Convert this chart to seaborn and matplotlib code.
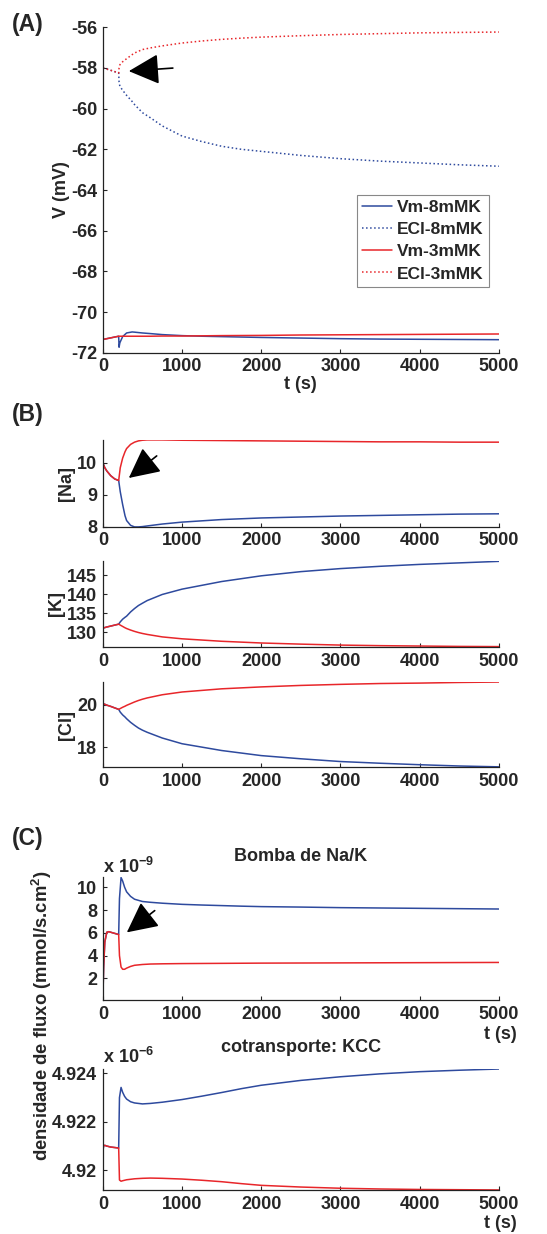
import matplotlib
matplotlib.use('Agg')
import matplotlib.pyplot as plt
import seaborn as sns

# Couleurs des deux conditions
BLEU = '#2E4A9E'
ROUGE = '#E8262A'

# ---- (A) potentiels ----
t_A = [0, 100, 200, 205, 215, 250, 300, 370, 400, 500, 600, 750, 1000, 1250,
       1500, 1750, 2000, 2500, 3000, 3500, 4000, 4500, 5000]
vm_8 = [-71.34, -71.26, -71.18, -71.72, -71.5, -71.2, -71.02, -70.97, -70.98,
        -71.02, -71.05, -71.1, -71.15, -71.18, -71.2, -71.22, -71.24, -71.27,
        -71.3, -71.32, -71.33, -71.34, -71.35]
ecl_8 = [-58.0, -58.12, -58.25, -58.7, -58.9, -59.1, -59.35, -59.65, -59.8,
         -60.2, -60.45, -60.85, -61.35, -61.62, -61.85, -62.0, -62.1, -62.3,
         -62.46, -62.58, -62.67, -62.76, -62.83]
vm_3 = [-71.34, -71.26, -71.18, -71.18, -71.18, -71.18, -71.18, -71.18, -71.18,
        -71.18, -71.18, -71.17, -71.17, -71.16, -71.15, -71.145, -71.14, -71.12,
        -71.11, -71.1, -71.09, -71.08, -71.07]
ecl_3 = [-58.0, -58.12, -58.25, -58.0, -57.85, -57.7, -57.55, -57.35, -57.27,
         -57.1, -57.02, -56.92, -56.78, -56.68, -56.6, -56.54, -56.49, -56.42,
         -56.36, -56.32, -56.28, -56.26, -56.24]

# ---- (B) concentrations ----
t_B = [0, 25, 50, 100, 150, 200, 220, 250, 280, 300, 350, 400, 450, 500, 560,
       750, 1000, 1500, 2000, 2500, 3000, 3500, 4000, 4500, 5000]
na_3 = [10.0, 9.85, 9.75, 9.6, 9.5, 9.45, 9.85, 10.15, 10.35, 10.45, 10.58,
        10.65, 10.69, 10.71, 10.72, 10.72, 10.71, 10.7, 10.69, 10.68, 10.67,
        10.66, 10.66, 10.65, 10.65]
na_8 = [10.0, 9.85, 9.75, 9.6, 9.5, 9.45, 9.1, 8.7, 8.35, 8.2, 8.05, 8.0, 8.0,
        8.01, 8.03, 8.09, 8.15, 8.23, 8.28, 8.31, 8.34, 8.36, 8.38, 8.4, 8.41]
k_3 = [131.05, 131.2, 131.35, 131.6, 131.85, 132.1, 131.85, 131.5, 131.15,
       130.95, 130.55, 130.2, 129.9, 129.65, 129.4, 128.75, 128.25, 127.6,
       127.15, 126.85, 126.6, 126.45, 126.35, 126.25, 126.2]
k_8 = [131.05, 131.2, 131.35, 131.6, 131.85, 132.1, 132.7, 133.4, 133.9, 134.2,
       135.3, 136.2, 137.0, 137.6, 138.3, 139.9, 141.3, 143.3, 144.8, 145.9,
       146.7, 147.3, 147.8, 148.2, 148.6]
cl_3 = [20.05, 20.02, 19.98, 19.92, 19.85, 19.78, 19.82, 19.88, 19.93, 19.97,
        20.05, 20.13, 20.2, 20.26, 20.32, 20.47, 20.6, 20.75, 20.84, 20.91,
        20.96, 21.0, 21.02, 21.05, 21.07]
cl_8 = [20.05, 20.02, 19.98, 19.92, 19.85, 19.78, 19.65, 19.52, 19.42, 19.34,
        19.17, 19.03, 18.9, 18.8, 18.7, 18.43, 18.16, 17.84, 17.6, 17.45,
        17.32, 17.24, 17.17, 17.11, 17.07]

# ---- (C) flux (pompe en 1e-9, KCC en 1e-6) ----
t_C = [0, 5, 10, 25, 50, 75, 100, 150, 200, 210, 230, 250, 275, 300, 350, 400,
       500, 600, 750, 1000, 1250, 1500, 1750, 2000, 2500, 3000, 3500, 4000,
       4500, 5000]
pompe_3 = [0.1, 1.5, 3.0, 5.2, 6.05, 6.1, 6.05, 5.95, 5.85, 4.0, 3.0, 2.8, 2.8,
           2.9, 3.05, 3.15, 3.22, 3.26, 3.28, 3.3, 3.31, 3.32, 3.33, 3.34,
           3.35, 3.36, 3.37, 3.38, 3.39, 3.4]
pompe_8 = [0.1, 1.5, 3.0, 5.2, 6.05, 6.1, 6.05, 5.95, 5.85, 9.0, 10.85, 10.55,
           10.0, 9.6, 9.2, 8.95, 8.75, 8.68, 8.6, 8.5, 8.44, 8.39, 8.34, 8.3,
           8.26, 8.21, 8.18, 8.15, 8.12, 8.09]
kcc_3 = [4.92041, 4.92090, 4.92102, 4.92103, 4.92100, 4.92098, 4.92096,
         4.92094, 4.92092, 4.91960, 4.91955, 4.91957, 4.91959, 4.91961,
         4.91963, 4.91965, 4.91967, 4.91968, 4.91967, 4.91964, 4.91959,
         4.91953, 4.91945, 4.91938, 4.91931, 4.91926, 4.91923, 4.91921,
         4.91920, 4.91919]
kcc_8 = [4.92041, 4.92090, 4.92102, 4.92103, 4.92100, 4.92098, 4.92096,
         4.92094, 4.92092, 4.92300, 4.92342, 4.92322, 4.92305, 4.92294,
         4.92283, 4.92278, 4.92274, 4.92276, 4.92281, 4.92292, 4.92306,
         4.92321, 4.92337, 4.92351, 4.92371, 4.92386, 4.92398, 4.92407,
         4.92413, 4.92418]

x_ticks = [0, 1000, 2000, 3000, 4000, 5000]

sns.set_style('ticks')
plt.rcParams['font.family'] = ['Liberation Sans', 'DejaVu Sans']
plt.rcParams['font.weight'] = 'bold'
plt.rcParams['axes.labelweight'] = 'bold'
plt.rcParams['axes.unicode_minus'] = False
plt.rcParams['mathtext.default'] = 'regular'
plt.rcParams['font.size'] = 13

fig = plt.figure(figsize=(5.47, 12.34), dpi=100)
L, W = 0.188, 0.724
ax_a = fig.add_axes([L, 0.714, W, 0.264])
ax_na = fig.add_axes([L, 0.573, W, 0.0705])
ax_k = fig.add_axes([L, 0.4757, W, 0.0697])
ax_cl = fig.add_axes([L, 0.3784, W, 0.0689])
ax_p = fig.add_axes([L, 0.1896, W, 0.0997])
ax_kcc = fig.add_axes([L, 0.0357, W, 0.098])

lw = 1.1
fl = dict(arrowstyle='-|>,head_length=1.9,head_width=0.95', color='k', lw=1.2,
          mutation_scale=10, shrinkA=0, shrinkB=0)


def trace(ax, t, y, c, ls='-', label=None):
    sns.lineplot(x=t, y=y, ax=ax, color=c, linewidth=lw, linestyle=ls,
                 label=label, legend=False)


def style(ax):
    ax.set_xlim(0, 5000)
    ax.set_xticks(x_ticks)
    ax.tick_params(direction='in', length=3, width=0.8, labelsize=13, pad=4)
    for s in ['top', 'right']:
        ax.spines[s].set_visible(False)
    for s in ['left', 'bottom']:
        ax.spines[s].set_linewidth(0.9)
        ax.spines[s].set_color('#222222')
    ax.set_xlabel('')
    ax.set_ylabel('')


# (A)
trace(ax_a, t_A, vm_8, BLEU, '-', 'Vm-8mMK')
trace(ax_a, t_A, ecl_8, BLEU, ':', 'ECl-8mMK')
trace(ax_a, t_A, vm_3, ROUGE, '-', 'Vm-3mMK')
trace(ax_a, t_A, ecl_3, ROUGE, ':', 'ECl-3mMK')
style(ax_a)
ax_a.set_ylim(-72, -56)
ax_a.set_yticks(range(-72, -55, 2))
ax_a.set_ylabel('V (mV)')
ax_a.yaxis.set_label_coords(-0.083, 0.5)
ax_a.set_xlabel('t (s)')
ax_a.xaxis.set_label_coords(0.5, -0.07)
leg = ax_a.legend(loc='upper right', bbox_to_anchor=(0.975, 0.485),
                  fontsize=12.5, fancybox=False, edgecolor='#888888',
                  framealpha=1, handlelength=1.7, labelspacing=0.4,
                  borderpad=0.3, handletextpad=0.3, borderaxespad=0)
leg.get_frame().set_linewidth(0.8)
ax_a.annotate('', xy=(328, -58.16), xytext=(884, -58.01), arrowprops=fl)

# (B)
trace(ax_na, t_B, na_8, BLEU)
trace(ax_na, t_B, na_3, ROUGE)
style(ax_na)
ax_na.set_ylim(8.0, 10.72)
ax_na.set_yticks([8, 9, 10])
ax_na.set_ylabel('[Na]')
ax_na.yaxis.set_label_coords(-0.071, 0.5)
ax_na.annotate('', xy=(328, 9.53), xytext=(680, 10.22), arrowprops=fl)

trace(ax_k, t_B, k_8, BLEU)
trace(ax_k, t_B, k_3, ROUGE)
style(ax_k)
ax_k.set_ylim(126.1, 148.7)
ax_k.set_yticks([130, 135, 140, 145])
ax_k.set_ylabel('[K]')
ax_k.yaxis.set_label_coords(-0.096, 0.5)

trace(ax_cl, t_B, cl_8, BLEU)
trace(ax_cl, t_B, cl_3, ROUGE)
style(ax_cl)
ax_cl.set_ylim(17.06, 21.07)
ax_cl.set_yticks([18, 20])
ax_cl.set_ylabel('[Cl]')
ax_cl.yaxis.set_label_coords(-0.071, 0.5)

# (C)
trace(ax_p, t_C, pompe_8, BLEU)
trace(ax_p, t_C, pompe_3, ROUGE)
style(ax_p)
ax_p.set_ylim(0.1, 10.9)
ax_p.set_yticks([2, 4, 6, 8, 10])
ax_p.text(0.5, 1.163, 'Bomba de Na/K', transform=ax_p.transAxes,
          ha='center', va='center', fontsize=13, fontweight='bold')
ax_p.set_xlabel('t (s)', loc='right')
ax_p.xaxis.set_label_coords(1.045, -0.21)
ax_p.annotate('', xy=(303, 6.04), xytext=(655, 7.95), arrowprops=fl)

trace(ax_kcc, t_C, kcc_8, BLEU)
trace(ax_kcc, t_C, kcc_3, ROUGE)
style(ax_kcc)
ax_kcc.set_ylim(4.91919, 4.92418)
ax_kcc.set_yticks([4.920, 4.922, 4.924])
ax_kcc.set_yticklabels(['4.92', '4.922', '4.924'])
ax_kcc.text(0.5, 1.18, 'cotransporte: KCC', transform=ax_kcc.transAxes,
            ha='center', va='center', fontsize=13, fontweight='bold')
ax_kcc.set_xlabel('t (s)', loc='right')
ax_kcc.xaxis.set_label_coords(1.045, -0.21)

fig.text(103 / 547, 1 - 867 / 1234, r'x 10$^{-9}$', ha='left', va='center',
         fontsize=13, fontweight='bold')
fig.text(103 / 547, 1 - 1057 / 1234, r'x 10$^{-6}$', ha='left', va='center',
         fontsize=13, fontweight='bold')
fig.text(0.077, 1 - 1016 / 1234, r'densidade de fluxo (mmol/s.cm$^2$)',
         rotation=90, ha='center', va='center', fontsize=13.3,
         fontweight='bold')

# Lettres des panneaux
fig.text(0.022, 1 - 25 / 1234, '(A)', ha='left', va='center', fontsize=16.5,
         fontweight='bold')
fig.text(0.022, 1 - 415 / 1234, '(B)', ha='left', va='center', fontsize=16.5,
         fontweight='bold')
fig.text(0.022, 1 - 838 / 1234, '(C)', ha='left', va='center', fontsize=16.5,
         fontweight='bold')

plt.savefig('out.png', dpi=100)
plt.close()
